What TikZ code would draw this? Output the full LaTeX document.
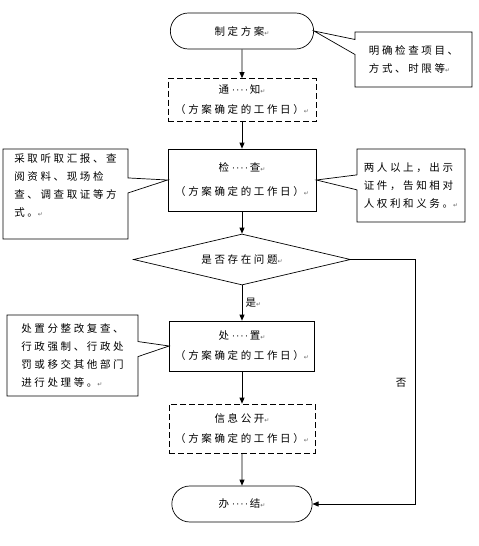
\documentclass[tikz,border=0pt]{standalone}
\usepackage{fontspec}
\setmainfont{Noto Sans CJK SC}[LetterSpace=25]
\newfontfamily\symfont{DejaVu Sans}
\usetikzlibrary{arrows.meta,shapes.geometric,shapes.misc,shapes.callouts}
\newcommand{\pmk}{{\symfont\fontsize{6}{6}\selectfont\color{black!60}↵}}
\newcommand{\dts}{{\symfont\fontsize{9}{9}\selectfont\hspace{3pt}·\hspace{1.5pt}·\hspace{1.5pt}·\hspace{1.5pt}·}\hspace{2pt}}

\tikzset{
	stepbox/.style={draw, minimum width=148pt, minimum height=50pt, align=center, inner sep=2pt, font=\fontsize{10.5}{20}\selectfont},
	tempbox/.style={stepbox, dashed, dash pattern=on 6pt off 3pt},
	endbox/.style={draw, rounded rectangle, minimum width=150pt, minimum height=36pt, font=\fontsize{10.5}{20}\selectfont},
	notebox/.style={draw, rectangle callout, align=left, inner sep=0pt, callout pointer width=15pt, font=\fontsize{10.5}{18}\selectfont},
	arr/.style={-{Triangle[length=6pt,width=5pt]}},
}

\begin{document}
\begin{tikzpicture}[x=1pt, y=-1pt, line width=0.7pt]
			%%%%% START %%%%%
			\useasboundingbox (0, 0) rectangle (479, 546);
			
			\node[endbox] (start) at (242, 31) {制定方案\pmk};
			\node[tempbox, minimum height=43pt] (notify) at (242, 100) {通\dts 知\pmk\\（方案确定的工作日）\pmk};
			\node[stepbox, minimum height=62pt, font=\fontsize{10.5}{24}\selectfont] (check) at (242, 180) {检\dts 查\pmk\\（方案确定的工作日）\pmk};
			\node[draw, diamond, aspect=4.25, inner sep=0pt, minimum width=217pt, minimum height=51pt, font=\fontsize{10.5}{20}\selectfont] (cond) at (242, 259.5) {是否存在问题\pmk};
			\node[stepbox, minimum width=145pt] (handle) at (242, 346) {处\dts 置\pmk\\（方案确定的工作日）\pmk};
			\node[tempbox, minimum width=146pt, minimum height=49pt] (public) at (242, 428.5) {信息公开\pmk\\（方案确定的工作日）\pmk};
			\node[endbox, minimum width=147pt] (finish) at (242, 504) {办\dts 结\pmk};
			
			% notes
			\node[notebox, minimum width=117pt, minimum height=55pt, callout absolute pointer={(start.east)}] (notetime) at (413.5, 59.5) {明确检查项目、\\方式、时限等\pmk};
			\node[notebox, minimum width=125pt, minimum height=90pt, callout absolute pointer={(check.west)}] (notehow) at (65.5, 194) {采取听取汇报、查\\阅资料、现场检\\查、调查取证等方\\式。\pmk\\\mbox{}};
			\node[notebox, minimum width=108pt, minimum height=73pt, callout absolute pointer={(check.east)}] (notewho) at (411, 185.5) {两人以上，出示\\证件，告知相对\\人权利和义务。\pmk};
			\node[notebox, minimum width=131pt, minimum height=81pt, callout absolute pointer={(handle.west)}] (notedeal) at (72.5, 355.5) {处置分整改复查、\\行政强制、行政处\\罚或移交其他部门\\进行处理等。\pmk};
			
			% flow
			\draw[arr] (start) -- (notify);
			\draw[arr] (notify) -- (check);
			\draw[arr] (check) -- (cond);
			\draw[arr] (cond) -- node[right, pos=0.5, font=\fontsize{10.5}{12}\selectfont] {是\pmk} (handle);
			\draw[arr] (handle) -- (public);
			\draw[arr] (public) -- (finish);
			\coordinate (turn) at (415, 259.5);
			\draw[arr] (cond.east) -- (turn) |- (finish.east);
			\node[font=\fontsize{10.5}{12}\selectfont] (no) at (401, 383) {否};
			
			%%%%% END %%%%%
		\end{tikzpicture}
\end{document}
